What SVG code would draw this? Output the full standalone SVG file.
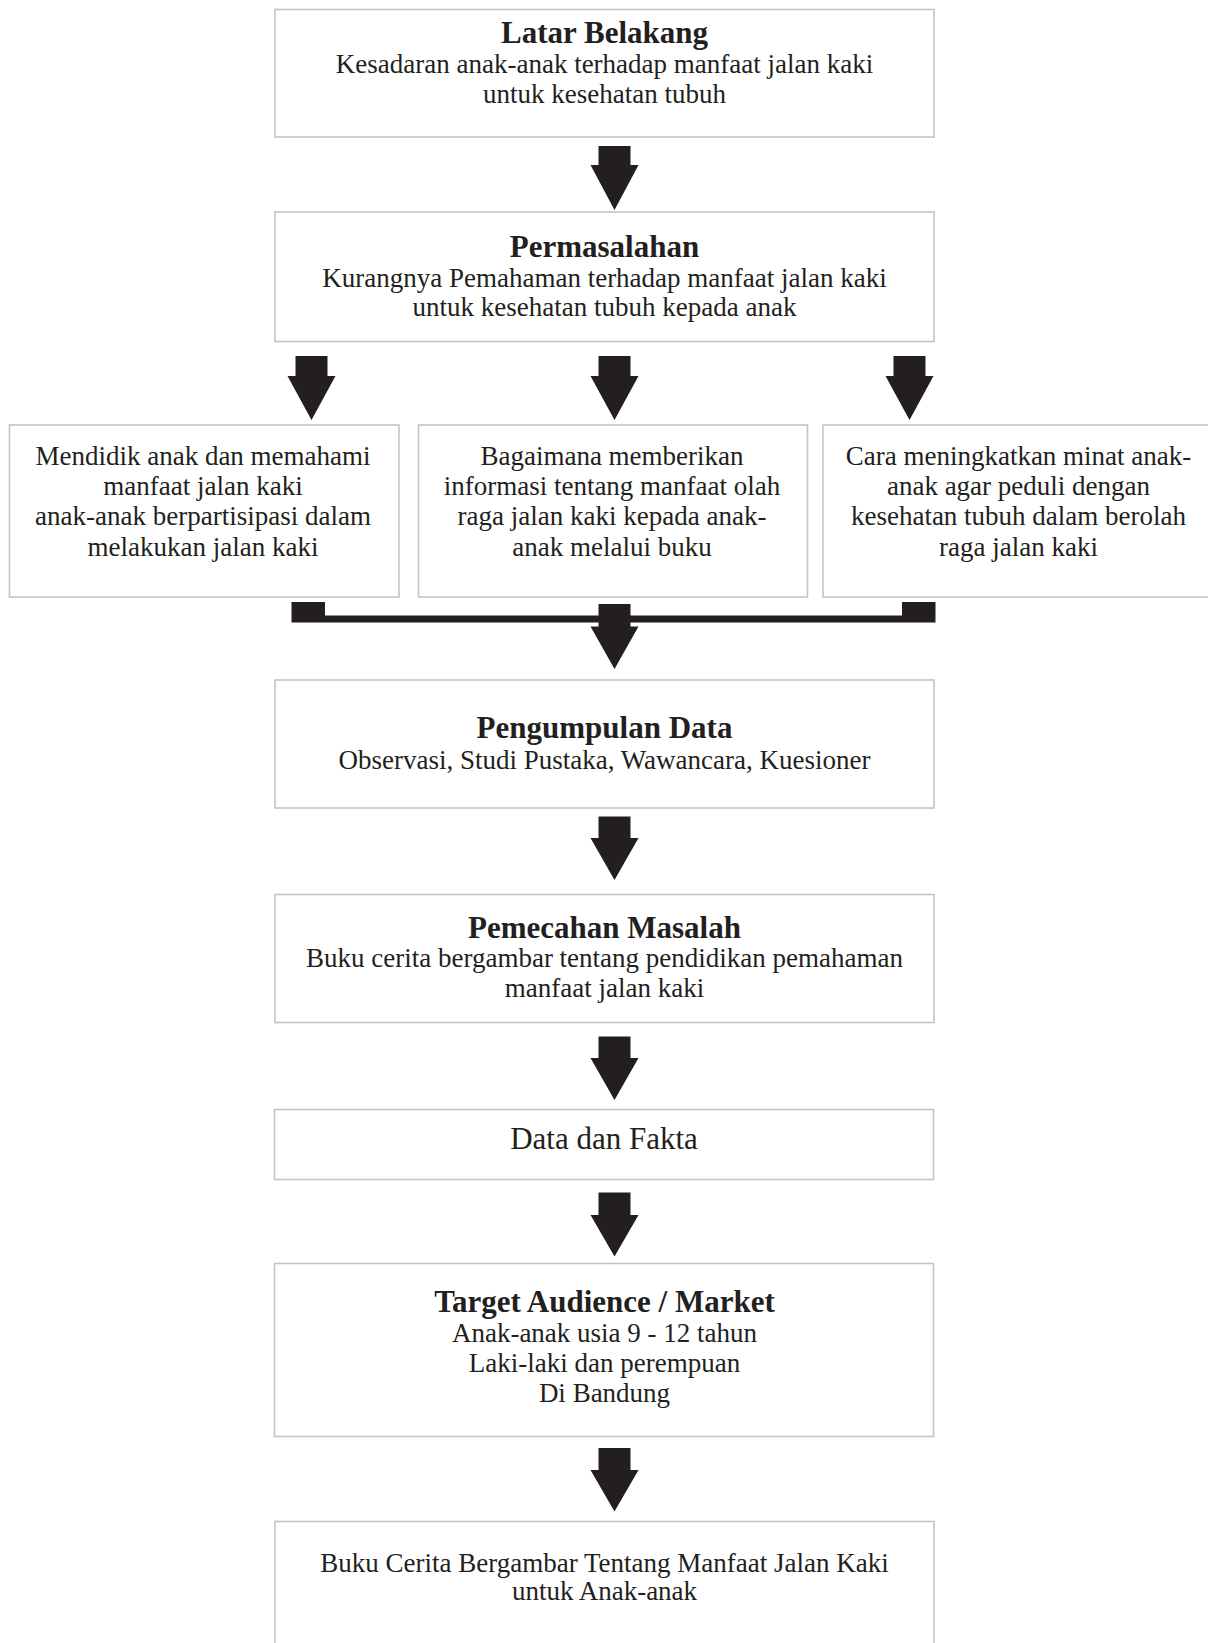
<svg xmlns="http://www.w3.org/2000/svg" width="1208" height="1643" viewBox="0 0 1208 1643">
<style>
.box{fill:#ffffff;stroke:#c4c4c4;stroke-width:1.6}
.t{font-family:"Liberation Serif","Times New Roman",serif;font-size:27px;fill:#231f20;text-anchor:middle}
.h{font-family:"Liberation Serif","Times New Roman",serif;font-size:31px;font-weight:bold;fill:#231f20;text-anchor:middle}
.big{font-size:31px}
.arr{fill:#231f20}
</style>
<defs>
<path id="ar" d="M-16,0 H16 V20 H24 L0,64 L-24,20 H-16 Z"/>
</defs>
<rect width="1208" height="1643" fill="#ffffff"/>

<g id="latar">
<rect class="box" x="275" y="9.5" width="659" height="127.5"/>
<text class="h" x="604.5" y="43">Latar Belakang</text>
<text class="t" x="604.5" y="73">Kesadaran anak-anak terhadap manfaat jalan kaki</text>
<text class="t" x="604.5" y="103">untuk kesehatan tubuh</text>
</g>

<g id="permasalahan">
<rect class="box" x="275" y="212" width="659" height="129.5"/>
<text class="h" x="604.5" y="257">Permasalahan</text>
<text class="t" x="604.5" y="287">Kurangnya Pemahaman terhadap manfaat jalan kaki</text>
<text class="t" x="604.5" y="316">untuk kesehatan tubuh kepada anak</text>
</g>

<g id="mendidik">
<rect class="box" x="9.5" y="425" width="389.5" height="172"/>
<text class="t" x="203" y="465">Mendidik anak dan memahami</text>
<text class="t" x="203" y="495">manfaat jalan kaki</text>
<text class="t" x="203" y="525">anak-anak berpartisipasi dalam</text>
<text class="t" x="203" y="555.5">melakukan jalan kaki</text>
</g>

<g id="bagaimana">
<rect class="box" x="418.5" y="425" width="389" height="172"/>
<text class="t" x="612" y="465">Bagaimana memberikan</text>
<text class="t" x="612" y="495">informasi tentang manfaat olah</text>
<text class="t" x="612" y="525">raga jalan kaki kepada anak-</text>
<text class="t" x="612" y="555.5">anak melalui buku</text>
</g>

<g id="cara">
<rect class="box" x="823" y="425" width="392" height="172"/>
<text class="t" x="1018.5" y="465">Cara meningkatkan minat anak-</text>
<text class="t" x="1018.5" y="495">anak agar peduli dengan</text>
<text class="t" x="1018.5" y="525">kesehatan tubuh dalam berolah</text>
<text class="t" x="1018.5" y="555.5">raga jalan kaki</text>
</g>

<g id="pengumpulan">
<rect class="box" x="275" y="680" width="659" height="128"/>
<text class="h" x="604.5" y="737.5">Pengumpulan Data</text>
<text class="t" x="604.5" y="768.5">Observasi, Studi Pustaka, Wawancara, Kuesioner</text>
</g>

<g id="pemecahan">
<rect class="box" x="275" y="894.5" width="659" height="128"/>
<text class="h" x="604.5" y="938">Pemecahan Masalah</text>
<text class="t" x="604.5" y="967">Buku cerita bergambar tentang pendidikan pemahaman</text>
<text class="t" x="604.5" y="997">manfaat jalan kaki</text>
</g>

<g id="data">
<rect class="box" x="274.5" y="1109.5" width="659" height="70"/>
<text class="t big" x="604" y="1148.5">Data dan Fakta</text>
</g>

<g id="target">
<rect class="box" x="274.5" y="1263.5" width="659" height="173"/>
<text class="h" x="604.5" y="1312">Target Audience / Market</text>
<text class="t" x="604.5" y="1342">Anak-anak usia 9 - 12 tahun</text>
<text class="t" x="604.5" y="1372">Laki-laki dan perempuan</text>
<text class="t" x="604.5" y="1402">Di Bandung</text>
</g>

<g id="buku">
<rect class="box" x="275" y="1521.5" width="659" height="140"/>
<text class="t" x="604.5" y="1572">Buku Cerita Bergambar Tentang Manfaat Jalan Kaki</text>
<text class="t" x="604.5" y="1600">untuk Anak-anak</text>
</g>

<g id="connectors" class="arr">
<path d="M598.5,146 H630.5 V165 H638.5 L614.5,210 L590.5,165 H598.5 Z"/>
<path d="M295.5,356 H327.5 V376 H335.5 L311.5,420 L287.5,376 H295.5 Z"/>
<path d="M598.5,356 H630.5 V376 H638.5 L614.5,420 L590.5,376 H598.5 Z"/>
<path d="M893.5,356 H925.5 V376 H933.5 L909.5,420 L885.5,376 H893.5 Z"/>
<path d="M291.5,602 H325 V615.5 H902 V602 H935.5 V622.5 H291.5 Z"/>
<path d="M598.5,604 H630.5 V626.5 H638.5 L614.5,669 L590.5,626.5 H598.5 Z"/>
<path d="M598.5,816.5 H630.5 V838 H638.5 L614.5,880 L590.5,838 H598.5 Z"/>
<path d="M598.5,1036.5 H630.5 V1058 H638.5 L614.5,1100 L590.5,1058 H598.5 Z"/>
<path d="M598.5,1192.5 H630.5 V1215 H638.5 L614.5,1256.5 L590.5,1215 H598.5 Z"/>
<path d="M598.5,1448 H630.5 V1470 H638.5 L614.5,1511.5 L590.5,1470 H598.5 Z"/>
</g>
</svg>
